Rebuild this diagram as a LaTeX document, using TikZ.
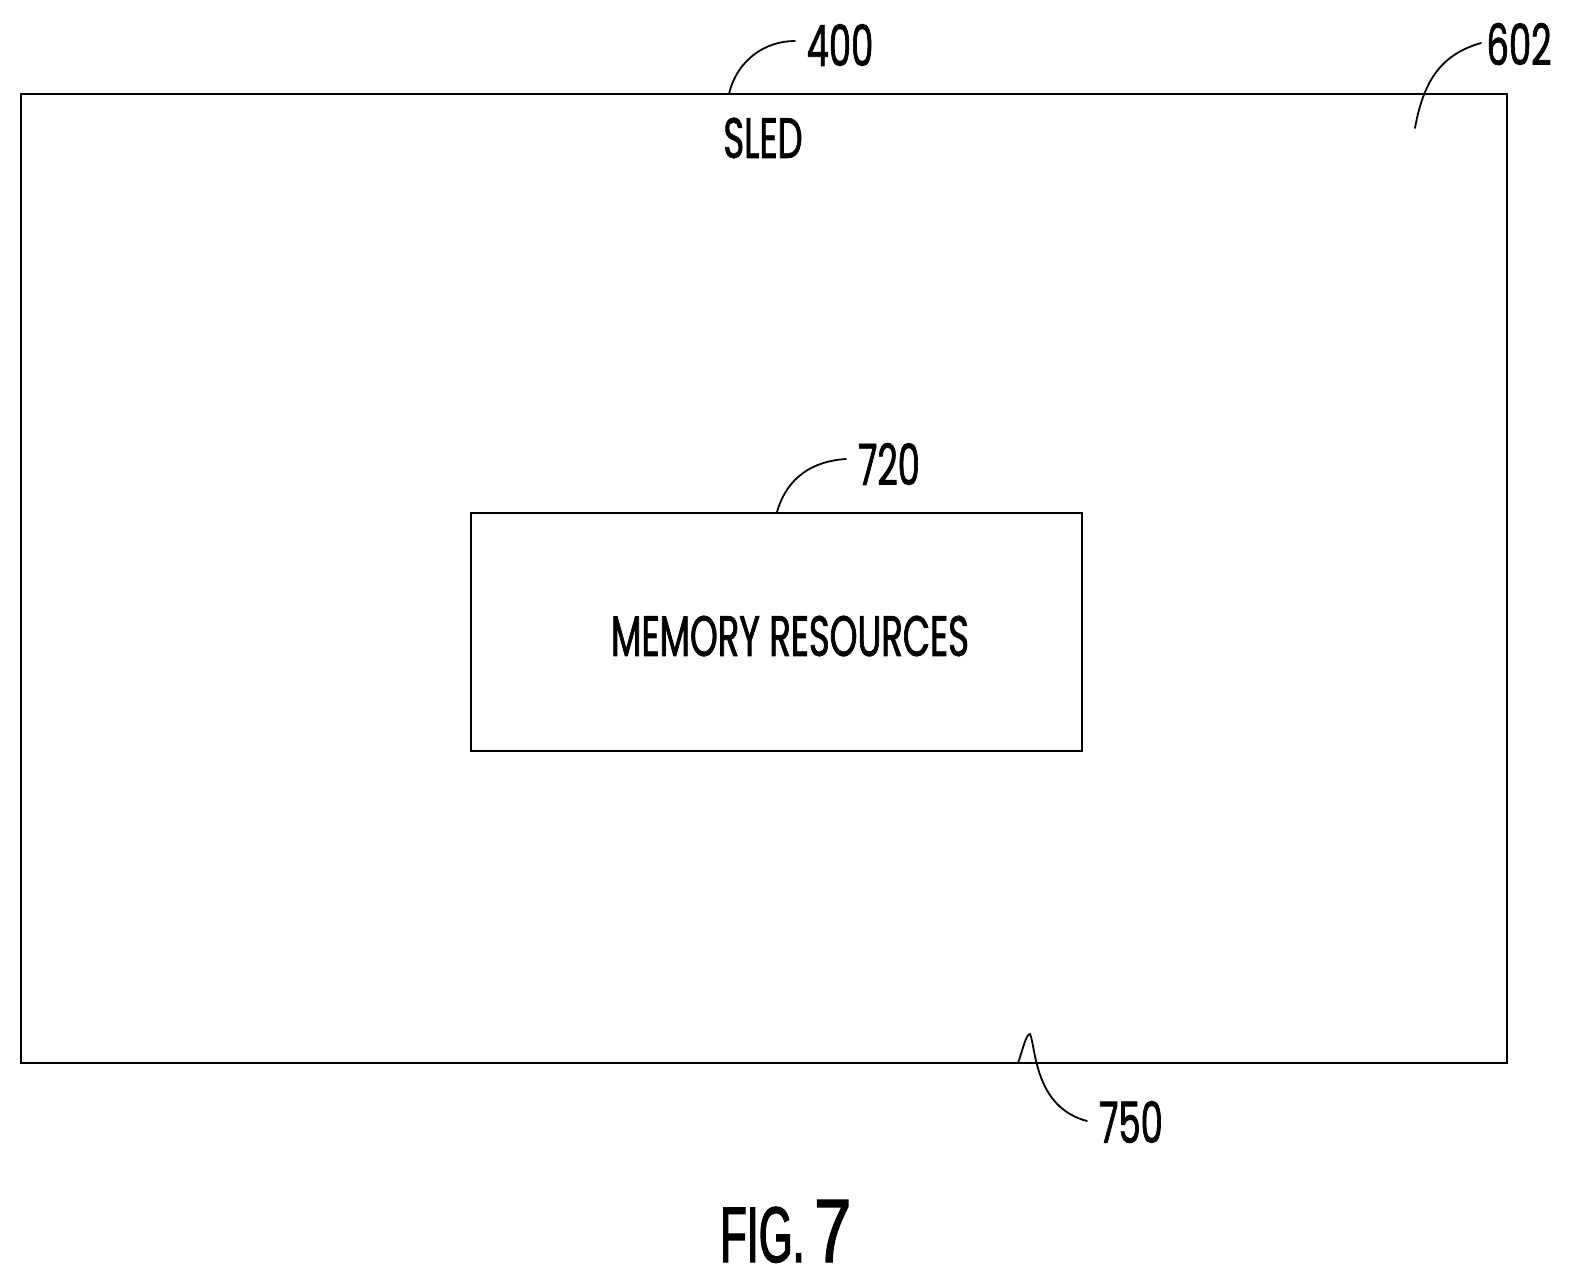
\documentclass[tikz,border=0pt]{standalone}
\usepackage{fontspec}
\setmainfont[FakeStretch=0.62,FakeBold=1.2]{Poppins}
\newfontfamily\figfont[FakeStretch=0.55,FakeBold=1.6]{Liberation Sans}
\newfontfamily\sevenfont[FakeStretch=0.74,FakeBold=1.6]{Liberation Sans}
\tikzset{
  box/.style={draw=black,line width=2.2pt,fill=none,inner sep=0pt},
  leader/.style={draw=black,line width=1.8pt,line cap=round},
  reflabel/.style={inner sep=0pt,font=\fontsize{57}{57}\selectfont,text=black},
  boxlabel/.style={inner sep=0pt,font=\fontsize{57}{57}\selectfont,text=black}
}
\begin{document}
\begin{tikzpicture}[x=1pt,y=-1pt]
\useasboundingbox (0,0) rectangle (1571,1285);
\fill[white] (0,0) rectangle (1571,1285);
\node[box,minimum width=1486pt,minimum height=969pt] (sled) at (764,578.5) {};
\node[box,minimum width=611pt,minimum height=238pt] (mem) at (776.5,632) {};
\node[boxlabel] (sledt) at (763,138) {SLED};
\node[boxlabel] (memt) at (790,636) {MEMORY RESOURCES};
\node[reflabel] (l400) at (840,45) {400};
\node[reflabel] (l602) at (1519,44) {602};
\node[reflabel] (l720) at (889,464) {720};
\node[reflabel] (l750) at (1131,1122) {750};
\node[inner sep=0pt,anchor=base west,font=\figfont\fontsize{79}{79}\selectfont] (fig) at (720,1262) {FIG.};
\node[inner sep=0pt,anchor=base west,font=\sevenfont\fontsize{90}{90}\selectfont] (seven) at (814,1262) {7};
\coordinate (a400) at (729,94);
\coordinate (a602) at (1415,128);
\coordinate (a720) at (777,512);
\coordinate (a750) at (1018,1063);
\coordinate (t750) at (1030,1034);
\draw[leader] (a400) .. controls (737,60) and (765,41) .. (795,41);
\draw[leader] (a602) .. controls (1424,78) and (1443,54) .. (1481,43);
\draw[leader] (a720) .. controls (787,477) and (813,461) .. (846,459);
\draw[leader] (a750) .. controls (1023,1049) and (1026,1034) .. (t750) .. controls (1036,1047) and (1034,1107) .. (1087,1121);
\end{tikzpicture}
\end{document}
